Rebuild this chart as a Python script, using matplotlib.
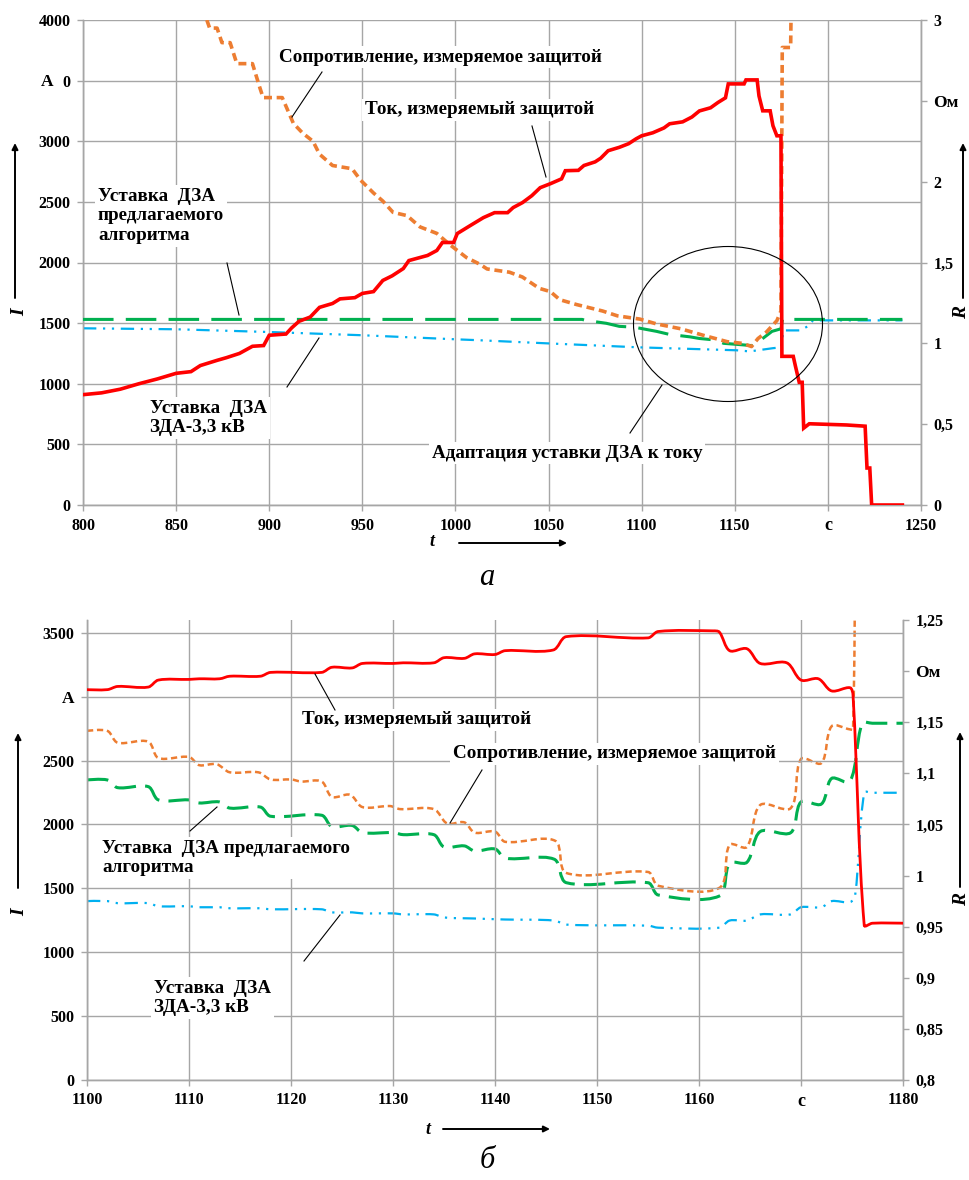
import matplotlib
matplotlib.use("Agg")
import matplotlib.pyplot as plt
from matplotlib.lines import Line2D
from matplotlib.patches import Ellipse, FancyArrowPatch, PathPatch
from matplotlib.path import Path

W, H = 969, 1180
SERIF = ["Liberation Serif", "DejaVu Serif"]

# ---------------- DATA: chart (а) ----------------
a_xticks = [800, 850, 900, 950, 1000, 1050, 1100, 1150, 1200, 1250]
a_xticklabels = ["800", "850", "900", "950", "1000", "1050", "1100", "1150", "с", "1250"]
a_yticks = [0, 500, 1000, 1500, 2000, 2500, 3000, 3500, 4000]
a_yticklabels = ["0", "500", "1000", "1500", "2000", "2500", "3000", "0", "4000"]
a_rticks = [0, 0.5, 1, 1.5, 2, 2.5, 3]
a_rticklabels = ["0", "0,5", "1", "1,5", "2", "Ом", "3"]

a_t_current = [800, 810, 820, 830, 840, 850, 858, 863, 872, 877, 884, 891, 897, 900, 909, 912,
               916, 922, 927, 934, 938, 946, 950, 956, 961, 966, 972, 975, 985, 990, 993, 999,
               1001, 1008, 1015, 1021, 1028, 1031, 1036, 1041, 1045.5, 1051, 1057, 1059, 1066,
               1069, 1075, 1078, 1082, 1088, 1093, 1097, 1100, 1106, 1112, 1115, 1122, 1127,
               1131, 1137, 1141, 1145, 1146.5, 1155, 1156, 1162, 1163, 1165, 1169, 1170.5,
               1172.6, 1174.8, 1175.3, 1181.4, 1182.5, 1184.6, 1186.2, 1187, 1190, 1200, 1210,
               1220, 1221, 1222.5, 1223.5, 1240]
a_current = [910, 925, 955, 1000, 1040, 1086, 1100, 1150, 1193, 1215, 1250, 1309, 1315, 1400,
             1410, 1460, 1515, 1550, 1630, 1662, 1700, 1710, 1745, 1760, 1852, 1890, 1950, 2016,
             2058, 2099, 2165, 2165, 2239, 2305, 2370, 2411, 2411, 2453, 2494, 2551, 2617, 2650,
             2690, 2757, 2760, 2800, 2830, 2860, 2922, 2950, 2980, 3020, 3045, 3070, 3110, 3144,
             3160, 3200, 3250, 3276, 3320, 3358, 3473, 3473, 3506, 3506, 3374, 3251, 3251, 3128,
             3045, 3045, 1226, 1226, 1150, 1012, 1012, 634, 670, 665, 660, 650, 305, 305, 0, 0]

a_t_res = [866.5, 868, 872, 874.6, 879, 882.6, 891, 895, 896.7, 907, 913, 918, 923.5, 927, 934,
           944.5, 949, 956, 961, 966.5, 974, 981, 990, 997, 1006, 1013, 1017, 1029, 1036, 1045,
           1051, 1056, 1065, 1072, 1079, 1087, 1099, 1108, 1121, 1133, 1146, 1154, 1159, 1162.5,
           1167, 1172.6, 1174.8, 1175.5, 1180, 1180.5]
a_res = [3.0, 2.95, 2.95, 2.86, 2.86, 2.73, 2.73, 2.58, 2.52, 2.52, 2.36, 2.30, 2.25, 2.17, 2.10,
         2.08, 2.01, 1.93, 1.88, 1.81, 1.79, 1.72, 1.68, 1.61, 1.53, 1.49, 1.46, 1.44, 1.41, 1.34,
         1.32, 1.27, 1.24, 1.22, 1.20, 1.17, 1.15, 1.12, 1.09, 1.05, 1.01, 1.00, 0.98, 1.03, 1.07,
         1.14, 1.20, 2.83, 2.83, 3.3]

a_t_prop = [800, 1068, 1070, 1081, 1088, 1096, 1108, 1115, 1126, 1131, 1140, 1144, 1155, 1160,
            1165, 1170, 1174.8, 1175.6, 1240]
a_prop = [1.148, 1.148, 1.142, 1.124, 1.105, 1.10, 1.074, 1.055, 1.04, 1.03, 1.02, 1.00, 0.99,
          0.985, 1.03, 1.074, 1.09, 1.148, 1.148]

a_t_zda = [800, 850, 900, 950, 1000, 1013, 1049, 1099, 1151, 1158, 1170.5, 1174.8, 1175.6, 1176.5,
           1185, 1190, 1192, 1240]
a_zda = [1.093, 1.087, 1.07, 1.05, 1.025, 1.019, 1.0, 0.975, 0.957, 0.95, 0.97, 0.975, 1.04, 1.08,
         1.08, 1.11, 1.142, 1.142]

# ---------------- DATA: chart (б) ----------------
b_xticks = [1100, 1110, 1120, 1130, 1140, 1150, 1160, 1170, 1180]
b_xticklabels = ["1100", "1110", "1120", "1130", "1140", "1150", "1160", "с", "1180"]
b_yticks = [0, 500, 1000, 1500, 2000, 2500, 3000, 3500]
b_yticklabels = ["0", "500", "1000", "1500", "2000", "2500", "А", "3500"]
b_rticks = [0.8, 0.85, 0.9, 0.95, 1.0, 1.05, 1.1, 1.15, 1.2, 1.25]
b_rticklabels = ["0,8", "0,85", "0,9", "0,95", "1", "1,05", "1,1", "1,15", "Ом", "1,25"]

b_t_current = [1100, 1102, 1103, 1106, 1107, 1110, 1111, 1113, 1114, 1117, 1118, 1123, 1124, 1126,
               1127, 1130, 1131, 1134, 1135, 1137, 1138, 1140, 1141, 1145.7, 1147, 1155, 1156,
               1161.4, 1162, 1163, 1164.7, 1166, 1168.6, 1170, 1171.7, 1173, 1174.8, 1175.1,
               1176.2, 1177, 1180]
b_current = [3055, 3055, 3080, 3075, 3130, 3135, 3140, 3140, 3160, 3160, 3190, 3190, 3230, 3225,
             3260, 3260, 3265, 3265, 3305, 3300, 3335, 3330, 3360, 3365, 3470, 3460, 3510, 3515,
             3505, 3360, 3375, 3260, 3265, 3130, 3140, 3045, 3070, 3010, 1210, 1227, 1227]

b_t_res = [1100, 1102, 1103, 1106, 1107, 1110, 1111, 1112.7, 1114, 1116.8, 1118, 1120, 1121, 1123,
           1124, 1125.8, 1127, 1129.7, 1130.7, 1134, 1135.3, 1137, 1138, 1140, 1141, 1145.9, 1147,
           1155, 1156, 1162, 1163, 1164.7, 1166, 1169, 1170, 1172, 1173, 1174.8, 1175.1, 1175.3]
b_res = [1.1415, 1.1415, 1.130, 1.131, 1.115, 1.116, 1.108, 1.109, 1.101, 1.101, 1.094, 1.094,
         1.092, 1.092, 1.077, 1.079, 1.067, 1.068, 1.065, 1.065, 1.051, 1.052, 1.042, 1.043, 1.033,
         1.034, 1.0025, 1.0035, 0.990, 0.988, 1.030, 1.028, 1.069, 1.066, 1.114, 1.110, 1.146,
         1.143, 1.143, 1.30]

b_t_prop = [1100, 1102, 1103, 1106, 1107, 1110, 1111, 1113, 1114, 1117, 1118, 1123, 1124, 1126,
            1127, 1130, 1131, 1134, 1135, 1137, 1138, 1140, 1141, 1145.8, 1147, 1155, 1156, 1162,
            1163, 1164.7, 1166, 1169, 1170, 1172, 1173, 1174.8, 1176, 1177, 1180]
b_prop = [1.0935, 1.0935, 1.086, 1.087, 1.074, 1.074, 1.071, 1.072, 1.066, 1.067, 1.058, 1.059,
          1.048, 1.049, 1.042, 1.042, 1.040, 1.040, 1.028, 1.029, 1.024, 1.026, 1.017, 1.016,
          0.993, 0.993, 0.981, 0.980, 1.012, 1.013, 1.043, 1.042, 1.072, 1.070, 1.095, 1.092,
          1.149, 1.149, 1.149]

b_t_zda = [1100, 1102, 1103, 1106, 1107, 1110, 1111, 1113, 1114, 1117, 1118, 1123, 1124, 1126,
           1127, 1130, 1131, 1134, 1135, 1138, 1141, 1145.8, 1147, 1155, 1156, 1162, 1163, 1164.7,
           1166, 1169, 1170, 1172, 1173, 1174.8, 1175.3, 1176.2, 1177, 1180]
b_zda = [0.975, 0.975, 0.973, 0.973, 0.970, 0.970, 0.969, 0.969, 0.968, 0.968, 0.967, 0.967,
         0.964, 0.964, 0.963, 0.963, 0.962, 0.962, 0.959, 0.958, 0.957, 0.956, 0.952, 0.951, 0.949,
         0.949, 0.956, 0.956, 0.962, 0.962, 0.969, 0.969, 0.975, 0.974, 0.98, 1.081, 1.081, 1.081]

# ---------------- STYLE ----------------
RED = "#FF0000"
ORANGE = "#ED7D31"
GREEN = "#00B050"
BLUE = "#00B0F0"
GRID = "#A6A6A6"
TICKSIZE = 11.5

fig = plt.figure(figsize=(W / 100, H / 100), dpi=100)


def P(x, y):
    return (x / W, 1 - y / H)


def make_axes(left, top, right, bottom):
    ax = fig.add_axes([left / W, 1 - bottom / H, (right - left) / W, (bottom - top) / H])
    axr = ax.twinx()
    for a in (ax, axr):
        for s in a.spines.values():
            s.set_color(GRID)
            s.set_linewidth(1.0)
        a.spines["top"].set_visible(False)
        a.tick_params(direction="out", length=4, color=GRID, width=1.0, pad=5)
    ax.grid(True, color=GRID, linewidth=1.0)
    ax.set_axisbelow(True)
    return ax, axr


def style_ticks(ax, axr, xt, xl, yt, yl, rt, rl):
    ax.set_xticks(xt)
    ax.set_xticklabels(xl)
    ax.set_yticks(yt)
    ax.set_yticklabels(yl)
    axr.set_yticks(rt)
    axr.set_yticklabels(rl)
    for lab in ax.get_xticklabels() + ax.get_yticklabels() + axr.get_yticklabels():
        lab.set_family(SERIF)
        lab.set_fontweight("bold")
        lab.set_fontsize(TICKSIZE)
    for lab, txt in zip(axr.get_yticklabels(), rl):
        if txt == "Ом":
            lab.set_fontsize(12.5)
    for lab, txt in zip(ax.get_yticklabels(), yl):
        if txt == "А":
            lab.set_fontsize(12.5)
    for lab, txt in zip(ax.get_xticklabels(), xl):
        if txt == "с":
            lab.set_fontsize(13)


def smooth_plot(ax, xs, ys, **style):
    """Smoothed line through the points: cubic Bezier segments whose handles are
    weighted by the on-screen chord lengths (no overshoot on uneven spacing)."""
    tr = ax.transData
    pts = [tuple(tr.transform((x, y))) for x, y in zip(xs, ys)]
    n = len(pts)

    def dist(a, b):
        return ((a[0] - b[0]) ** 2 + (a[1] - b[1]) ** 2) ** 0.5 + 1e-9

    verts = [pts[0]]
    codes = [Path.MOVETO]
    for i in range(n - 1):
        p0 = pts[i - 1] if i > 0 else pts[i]
        p1 = pts[i]
        p2 = pts[i + 1]
        p3 = pts[i + 2] if i + 2 < n else p2
        d01, d12, d23 = dist(p0, p1), dist(p1, p2), dist(p2, p3)
        f1 = d12 / (d01 + d12) / 3.0 if i > 0 else 0.0
        f2 = d12 / (d12 + d23) / 3.0 if i + 2 < n else 0.0
        c1 = (p1[0] + (p2[0] - p0[0]) * f1, p1[1] + (p2[1] - p0[1]) * f1)
        c2 = (p2[0] - (p3[0] - p1[0]) * f2, p2[1] - (p3[1] - p1[1]) * f2)
        verts += [c1, c2, p2]
        codes += [Path.CURVE4] * 3
    inv = tr.inverted()
    data_verts = [tuple(inv.transform(v)) for v in verts]
    patch = PathPatch(Path(data_verts, codes), fill=False, **style)
    ax.add_patch(patch)
    return patch


# ---- chart (а)
ax1, ax1r = make_axes(83, 20, 921, 505)
ax1.set_xlim(800, 1250)
ax1.set_ylim(0, 4000)
ax1r.set_ylim(0, 3)
style_ticks(ax1, ax1r, a_xticks, a_xticklabels, a_yticks, a_yticklabels, a_rticks, a_rticklabels)

ax1r.plot(a_t_zda, a_zda, color=BLUE, lw=1.6, ls=(0, (6, 3, 1, 3, 1, 3)), zorder=2)
ax1r.plot(a_t_prop, a_prop, color=GREEN, lw=2.2, ls=(0, (10, 4)), zorder=3)
ax1r.plot(a_t_res, a_res, color=ORANGE, lw=2.6, ls=(0, (2.2, 1.3)), zorder=4)
ax1r.plot(a_t_current, [v * 3 / 4000 for v in a_current], color=RED, lw=2.6, zorder=5,
          solid_joinstyle="miter")

# ---- chart (б)
ax2, ax2r = make_axes(87, 620, 903, 1080)
ax2.set_xlim(1100, 1180)
ax2.set_ylim(0, 3600)
ax2r.set_ylim(0.8, 1.25)
style_ticks(ax2, ax2r, b_xticks, b_xticklabels, b_yticks, b_yticklabels, b_rticks, b_rticklabels)

smooth_plot(ax2r, b_t_zda, b_zda, edgecolor=BLUE, lw=1.6, ls=(0, (6, 3, 1, 3, 1, 3)), zorder=2)
smooth_plot(ax2r, b_t_prop, b_prop, edgecolor=GREEN, lw=2.2, ls=(0, (7, 3)), zorder=3)
smooth_plot(ax2r, b_t_res, b_res, edgecolor=ORANGE, lw=1.8, ls=(0, (2.5, 1.5)), zorder=4)
smooth_plot(ax2, b_t_current, b_current, edgecolor=RED, lw=2.0, zorder=5)
ax2.set_zorder(ax2r.get_zorder() + 1)
ax2.patch.set_visible(False)

# ---------------- ANNOTATIONS ----------------
TXT = dict(family=SERIF, fontweight="bold", fontsize=13.8, color="black",
           transform=fig.transFigure, va="center", ha="left", zorder=10, linespacing=1.2,
           bbox=dict(facecolor="white", edgecolor="none", pad=2))


def label(x, y, s, **kw):
    d = dict(TXT)
    d.update(kw)
    fig.text(*P(x, y), s, **d)


def leader(x1, y1, x2, y2):
    fig.add_artist(Line2D([x1 / W, x2 / W], [1 - y1 / H, 1 - y2 / H], color="black",
                          lw=0.8, transform=fig.transFigure, zorder=11))


def arrow(x1, y1, x2, y2):
    fig.add_artist(FancyArrowPatch(P(x1, y1), P(x2, y2), transform=fig.transFigure,
                                   arrowstyle="-|>", mutation_scale=9, lw=1.4, color="black",
                                   shrinkA=0, shrinkB=0, zorder=11))


# chart (а)
label(279, 57, "Сопротивление, измеряемое защитой")
leader(322, 72, 292, 117)
label(365, 110, "Ток, измеряемый защитой")
leader(532, 126, 546, 177)
label(98, 216, "Уставка  ДЗА\nпредлагаемого\nалгоритма")
leader(227, 263, 239, 315)
label(150, 418, "Уставка  ДЗА\nЗДА-3,3 кВ")
leader(287, 387, 319, 338)
label(432, 453, "Адаптация уставки ДЗА к току")
leader(630, 433, 662, 385)
fig.add_artist(Ellipse(P(728, 324), 189 / W, 155 / H, transform=fig.transFigure, fill=False,
                       ec="black", lw=0.8, zorder=11))
fig.text(*P(47, 82), "А", family=SERIF, fontweight="bold", fontsize=12.5, ha="center",
         va="center", transform=fig.transFigure)

# chart (б)
label(302, 720, "Ток, измеряемый защитой")
leader(335, 710, 315, 674)
label(453, 754, "Сопротивление, измеряемое защитой")
leader(482, 770, 450, 823)
label(102, 858, "Уставка  ДЗА предлагаемого\nалгоритма")
leader(190, 831, 217, 807)
label(154, 998, "Уставка  ДЗА\nЗДА-3,3 кВ")
leader(304, 961, 340, 915)

# axis names with arrows
AX = dict(family=SERIF, fontweight="bold", style="italic", fontsize=14, ha="center",
          va="center", transform=fig.transFigure)
fig.text(*P(20, 312), "I", rotation=90, **AX)
arrow(15, 298, 15, 143)
fig.text(*P(962, 312), "R", rotation=90, **AX)
arrow(963, 298, 963, 143)
fig.text(*P(432, 542), "t", **dict(AX, fontsize=13))
arrow(459, 543, 567, 543)

fig.text(*P(20, 912), "I", rotation=90, **AX)
arrow(18, 888, 18, 733)
fig.text(*P(962, 900), "R", rotation=90, **AX)
arrow(960, 887, 960, 732)
fig.text(*P(428, 1129), "t", **dict(AX, fontsize=13))
arrow(443, 1129, 550, 1129)

SUB = dict(family=SERIF, style="italic", fontsize=22, ha="center", va="center",
           transform=fig.transFigure)
fig.text(*P(487, 578), "а", **SUB)
fig.text(*P(487, 1160), "б", **SUB)

fig.savefig("out.png", dpi=100)
